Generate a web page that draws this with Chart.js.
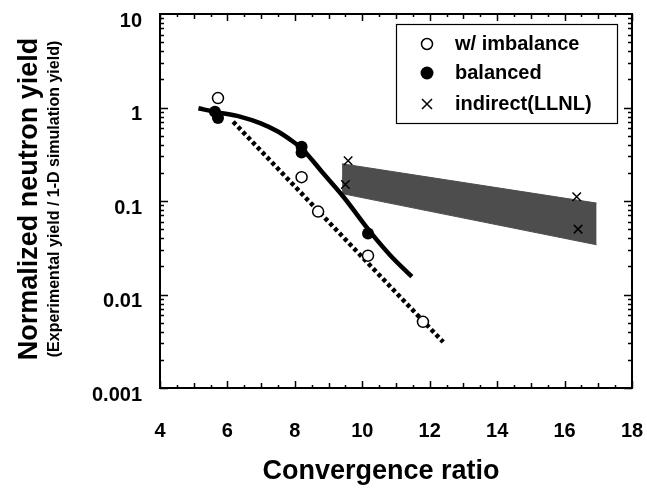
<!DOCTYPE html>
<html>
<head>
<meta charset="utf-8">
<script src="https://cdn.jsdelivr.net/npm/chart.js@4"></script>
<style>
  html, body { margin: 0; padding: 0; background: #fff; }
  canvas { display: block; }
</style>
</head>
<body>
<canvas id="chart" width="647" height="495"></canvas>
<script>
// w/ imbalance (open circles)
const imbalanceX = [5.72, 8.20, 8.69, 10.17, 11.80];
const imbalanceY = [1.26, 0.18, 0.077, 0.026, 0.0051];
// balanced (filled circles)
const balancedX = [5.63, 5.72, 8.20, 8.20, 10.17];
const balancedY = [0.90, 0.77, 0.38, 0.33, 0.045];
// indirect (LLNL) crosses
const indirectX = [9.58, 9.50, 16.36, 16.40];
const indirectY = [0.27, 0.15, 0.111, 0.05];
// fit curves
const balancedFitX = [5.14, 5.68, 6.37, 6.97, 7.51, 7.95, 8.20, 8.84, 9.44, 10.23, 10.82, 11.47];
const balancedFitY = [0.98, 0.89, 0.80, 0.68, 0.55, 0.43, 0.366, 0.198, 0.111, 0.047, 0.0265, 0.0155];
const imbalanceFitX = [6.17, 12.40];
const imbalanceFitY = [0.705, 0.0031];
// indirect shaded band
const bandX = [9.40, 16.95];
const bandTop = [0.25, 0.095];
const bandBottom = [0.12, 0.034];

const xy = (xs, ys) => xs.map((x, i) => ({ x, y: ys[i] }));
const FONT = "'Liberation Sans', Arial, sans-serif";

function noScalePadding(scale) {
    scale.paddingLeft = 0;
    scale.paddingRight = 0;
    scale.paddingTop = 0;
    scale.paddingBottom = 0;
}

const framePlugin = {
    id: "frame",
    afterDraw(chart) {
        const { ctx, chartArea: a } = chart;
        const xs = chart.scales.x, ys = chart.scales.y;
        ctx.save();
        ctx.strokeStyle = "#000";
        ctx.lineWidth = 1.5;
        // inward ticks on x (bottom and top)
        for (let v = 4; v <= 18.001; v += 0.5) {
            const px = Math.round(xs.getPixelForValue(v)) + 0.5;
            const len = (v % 2 === 0) ? 7 : (v % 1 === 0 ? 5 : 3);
            ctx.beginPath();
            ctx.moveTo(px, a.bottom); ctx.lineTo(px, a.bottom - len);
            ctx.moveTo(px, a.top); ctx.lineTo(px, a.top + len);
            ctx.stroke();
        }
        // inward ticks on y (left and right)
        for (let d = -3; d <= 0; d++) {
            for (let m = 1; m <= 9; m++) {
                const py = Math.round(ys.getPixelForValue(m * Math.pow(10, d))) + 0.5;
                const len = m === 1 ? 8 : 4;
                ctx.beginPath();
                ctx.moveTo(a.left, py); ctx.lineTo(a.left + len, py);
                ctx.moveTo(a.right, py); ctx.lineTo(a.right - len, py);
                ctx.stroke();
            }
        }
        // frame
        ctx.lineWidth = 2;
        ctx.strokeRect(a.left, a.top, a.right - a.left, a.bottom - a.top);

        // legend box
        ctx.lineWidth = 1.2;
        ctx.strokeRect(396.5, 24.5, 221, 99);
        ctx.fillStyle = "#000";
        ctx.font = "bold 20px " + FONT;
        ctx.textBaseline = "middle";
        ctx.textAlign = "left";
        const rows = [["w/ imbalance", 44], ["balanced", 73], ["indirect(LLNL)", 104]];
        rows.forEach(([t, y]) => ctx.fillText(t, 455, y));
        ctx.lineWidth = 1.5;
        ctx.beginPath(); ctx.arc(427, 44, 5.5, 0, Math.PI * 2); ctx.stroke();
        ctx.beginPath(); ctx.arc(427, 73, 6.5, 0, Math.PI * 2); ctx.fill();
        ctx.beginPath();
        ctx.moveTo(422, 99); ctx.lineTo(432, 109);
        ctx.moveTo(432, 99); ctx.lineTo(422, 109);
        ctx.stroke();

        // axis titles
        ctx.textAlign = "center";
        ctx.font = "bold 27px " + FONT;
        ctx.fillText("Convergence ratio", 381, 472);
        ctx.save();
        ctx.translate(30, 199);
        ctx.rotate(-Math.PI / 2);
        ctx.fillText("Normalized neutron yield", 0, 0);
        ctx.font = "bold 16px " + FONT;
        ctx.fillText("(Experimental yield / 1-D simulation yield)", 0, 25);
        ctx.restore();
        ctx.restore();
    }
};

new Chart(document.getElementById("chart"), {
    type: "line",
    data: {
        datasets: [
            {
                label: "w/ imbalance",
                data: xy(imbalanceX, imbalanceY),
                showLine: false,
                pointStyle: "circle",
                pointRadius: 5.5,
                pointBorderWidth: 1.5,
                pointBorderColor: "#000",
                pointBackgroundColor: "#fff",
                order: 1
            },
            {
                label: "balanced",
                data: xy(balancedX, balancedY),
                showLine: false,
                pointStyle: "circle",
                pointRadius: 6,
                pointBorderWidth: 0,
                pointBackgroundColor: "#000",
                order: 2
            },
            {
                label: "indirect(LLNL)",
                data: xy(indirectX, indirectY),
                showLine: false,
                pointStyle: "crossRot",
                pointRadius: 6,
                pointBorderWidth: 1.5,
                pointBorderColor: "#000",
                order: 3
            },
            {
                label: "balanced fit",
                data: xy(balancedFitX, balancedFitY),
                borderColor: "#000",
                borderWidth: 4.5,
                pointRadius: 0,
                cubicInterpolationMode: "monotone",
                fill: false,
                order: 5
            },
            {
                label: "imbalance fit",
                data: xy(imbalanceFitX, imbalanceFitY),
                borderColor: "#000",
                borderWidth: 4.5,
                borderDash: [4, 3],
                pointRadius: 0,
                fill: false,
                order: 6
            },
            {
                label: "band top",
                data: xy(bandX, bandTop),
                borderColor: "#4d4d4d",
                borderWidth: 1,
                pointRadius: 0,
                fill: false,
                order: 10
            },
            {
                label: "band bottom",
                data: xy(bandX, bandBottom),
                borderColor: "#4d4d4d",
                borderWidth: 1,
                backgroundColor: "#4d4d4d",
                pointRadius: 0,
                fill: "-1",
                order: 11
            }
        ]
    },
    options: {
        responsive: false,
        animation: false,
        devicePixelRatio: 1,
        layout: { padding: { top: 14, right: 15, left: 0, bottom: 0 } },
        plugins: { legend: { display: false }, tooltip: { enabled: false } },
        scales: {
            x: {
                type: "linear",
                min: 4,
                max: 18,
                grid: { display: false },
                border: { display: false },
                ticks: {
                    stepSize: 2,
                    padding: 23,
                    maxRotation: 0,
                    color: "#000",
                    font: { family: FONT, size: 20, weight: "bold" }
                },
                afterFit(scale) { scale.height = 107; noScalePadding(scale); }
            },
            y: {
                type: "logarithmic",
                min: 0.001,
                max: 10,
                grid: { display: false },
                border: { display: false },
                ticks: {
                    padding: 10,
                    labelOffset: 7,
                    color: "#000",
                    autoSkip: false,
                    font: { family: FONT, size: 20, weight: "bold" },
                    callback(v) {
                        const l = Math.log10(v);
                        if (Math.abs(l - Math.round(l)) > 1e-6) return "";
                        const e = Math.round(l);
                        return e >= 0 ? String(Math.pow(10, e)) : Math.pow(10, e).toFixed(-e);
                    }
                },
                afterFit(scale) { scale.width = 160; noScalePadding(scale); }
            }
        }
    },
    plugins: [framePlugin]
});
</script>
</body>
</html>
